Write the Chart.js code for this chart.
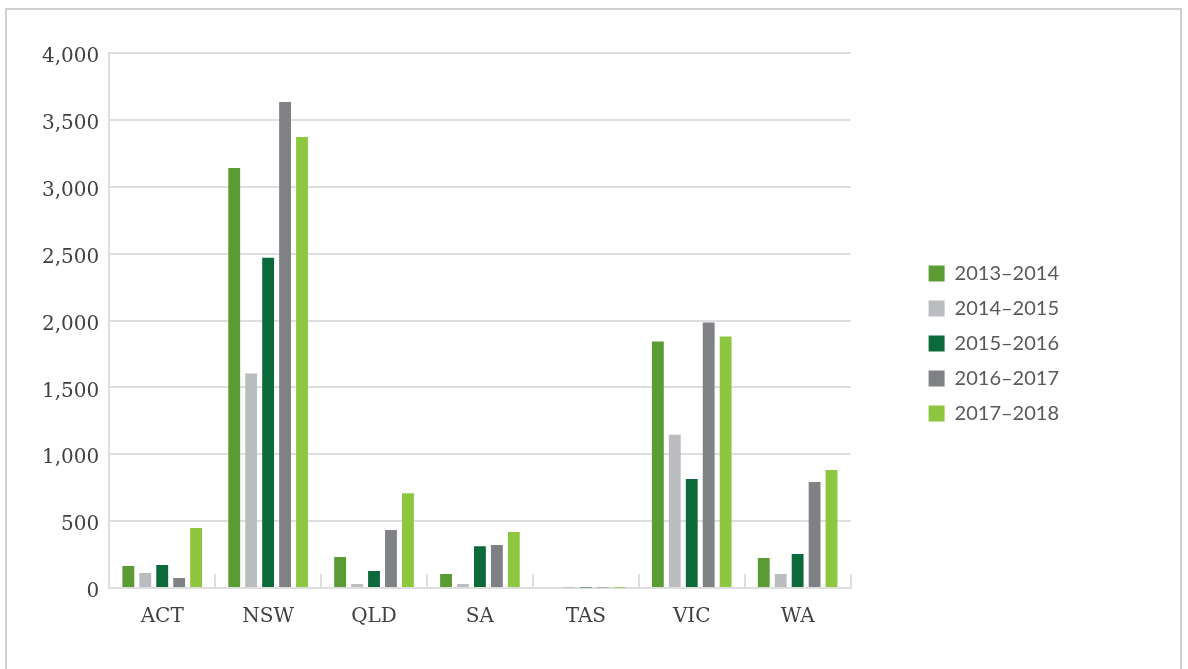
<!DOCTYPE html>
<html>
<head>
<meta charset="utf-8">
<script src="https://cdn.jsdelivr.net/npm/chart.js@4.4.0/dist/chart.umd.min.js"></script>
<style>
    body { margin: 0; background: #fff; }
    #wrap { position: relative; width: 1188px; height: 669px; overflow: hidden; }
    #frame { position: absolute; left: 5px; top: 8px; width: 1177px; height: 700px; border: 2px solid #d0d0d0; box-sizing: border-box; }
    #chart-states { position: absolute; left: 0; top: 0; }
</style>
</head>
<body>
<div id="wrap">
    <div id="frame"></div>
    <canvas id="chart-states" width="1188" height="669"></canvas>
</div>
<script>
const states = ['ACT', 'NSW', 'QLD', 'SA', 'TAS', 'VIC', 'WA'];
const seriesLabels = ['2013–2014', '2014–2015', '2015–2016', '2016–2017', '2017–2018'];
const colors = ['#5a9c33', '#bbbcbf', '#0c6a3a', '#808184', '#8dc63f'];

const values2013 = [164, 3140, 231, 104, 8, 1843, 224];
const values2014 = [112, 1604, 30, 30, 1, 1145, 104];
const values2015 = [172, 2470, 127, 313, 3, 815, 254];
const values2016 = [75, 3633, 433, 321, 3, 1985, 793];
const values2017 = [448, 3372, 709, 418, 2, 1881, 883];

const yTicks = [0, 500, 1000, 1500, 2000, 2500, 3000, 3500, 4000];

const allValues = [values2013, values2014, values2015, values2016, values2017];

const gridColor = '#dedede';
const labelColor = '#404040';

const datasets = allValues.map(function (vals, i) {
    return {
        label: seriesLabels[i],
        data: vals,
        backgroundColor: colors[i],
        categoryPercentage: 0.8,
        barPercentage: 0.7,
    };
});

new Chart(document.getElementById('chart-states'), {
    type: 'bar',
    data: {
        labels: states,
        datasets: datasets,
    },
    options: {
        responsive: false,
        animation: false,
        layout: {
            padding: { top: 53, bottom: 35, left: 32, right: 119 }
        },
        plugins: {
            legend: {
                position: 'right',
                labels: {
                    boxWidth: 16,
                    boxHeight: 16,
                    padding: 15,
                    color: '#595959',
                    font: { family: 'Lato', size: 20 },
                },
            },
            tooltip: { enabled: false },
        },
        scales: {
            x: {
                grid: {
                    drawOnChartArea: false,
                    tickLength: -14,
                    color: gridColor,
                    lineWidth: 2,
                },
                border: { color: gridColor, width: 2 },
                ticks: {
                    padding: 31,
                    color: labelColor,
                    font: { family: 'DejaVu Serif', size: 20 },
                },
                afterFit: function (scale) {
                    scale.height = 46;
                },
            },
            y: {
                min: 0,
                max: 4000,
                afterBuildTicks: function (scale) {
                    scale.ticks = yTicks.map(v => ({ value: v }));
                },
                grid: {
                    drawTicks: false,
                    color: gridColor,
                    lineWidth: 2,
                },
                border: { color: gridColor, width: 2 },
                ticks: {
                    padding: 10,
                    labelOffset: 4,
                    color: labelColor,
                    font: { family: 'DejaVu Serif', size: 20 },
                    callback: function (value) {
                        return value.toLocaleString('en-US');
                    },
                },
            },
            spacer: {
                type: 'linear',
                position: 'right',
                grid: { display: false },
                border: { display: false },
                ticks: { display: false },
                afterFit: function (scale) {
                    scale.width = 63;
                },
            },
        },
    },
});
</script>
</body>
</html>
